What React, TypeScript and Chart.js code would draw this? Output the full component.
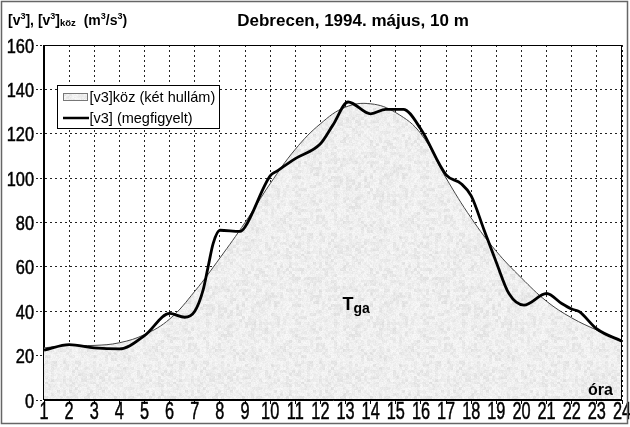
import React, { useEffect, useRef } from "react";
import { Chart, registerables } from "chart.js";

Chart.register(...registerables);

// ---- data ----
const fittedHours = [1, 2, 3, 4, 5, 6, 7, 8, 9, 10, 11, 12, 13, 14, 15, 16, 17, 18, 19, 20, 21, 22, 23, 24];
const fittedValues = [23.5, 24.6, 24.6, 25.8, 29.5, 36.5, 49, 64, 80, 97.5, 113, 124.5, 132, 133.5, 129.5, 120, 100, 82, 67, 55, 44.5, 37, 31.5, 26.7];

const observedHours = [1, 2, 3, 4, 5, 6, 6.6, 7, 7.33, 7.53, 7.73, 8, 8.8, 9, 10, 10.25, 11, 12, 12.5, 13.1, 14, 14.6, 15.3, 16, 17, 17.6, 18, 18.5, 19, 19.5, 20.1, 21, 21.6, 22, 22.3, 23, 24];
const observedValues = [22.5, 25, 23.5, 23, 29, 39, 37.3, 40, 49.5, 60, 70.5, 76.5, 76, 78, 101, 103, 108.8, 115.5, 124, 134.3, 129, 131, 131, 122, 101.5, 97.5, 92, 77, 62, 48, 42.8, 48, 43.5, 41, 39.8, 32, 26.5];

const xMin = 1;
const xMax = 24;
const xStep = 1;
const yMin = 0;
const yMax = 160;
const yStep = 20;

const chartTitle = "Debrecen, 1994. május, 10 m";
const legendFitted = "[v3]köz (két hullám)";
const legendObserved = "[v3] (megfigyelt)";
const xAxisTitle = "óra";
const areaLabelMain = "T";
const areaLabelSub = "ga";
const yTitleParts: { t: string; k: "n" | "sup" | "sub" }[] = [
  { t: "[v", k: "n" },
  { t: "3", k: "sup" },
  { t: "], [v", k: "n" },
  { t: "3", k: "sup" },
  { t: "]", k: "n" },
  { t: "köz", k: "sub" },
  { t: "  (m", k: "n" },
  { t: "3", k: "sup" },
  { t: "/s", k: "n" },
  { t: "3", k: "sup" },
  { t: ")", k: "n" },
];

const FAMILY = '"Liberation Sans", Arial, Helvetica, sans-serif';

function makeTexture(): CanvasPattern | string {
  const size = 128;
  const c = document.createElement("canvas");
  c.width = size;
  c.height = size;
  const g = c.getContext("2d");
  if (!g) return "#e6e6e6";
  const img = g.createImageData(size, size);
  const hash = (x: number, y: number) => {
    const s = Math.sin(x * 127.1 + y * 311.7) * 43758.5453;
    return s - Math.floor(s);
  };
  for (let y = 0; y < size; y++) {
    for (let x = 0; x < size; x++) {
      const fine = hash(x, y);
      const coarse = hash(Math.floor(x / 3) + 500, Math.floor(y / 3) + 900);
      const v = Math.round(249 - 17 * coarse * coarse - 12 * fine);
      const i = (y * size + x) * 4;
      img.data[i] = v;
      img.data[i + 1] = v;
      img.data[i + 2] = v;
      img.data[i + 3] = 255;
    }
  }
  g.putImageData(img, 0, 0);
  const p = g.createPattern(c, "repeat");
  return p || "#e6e6e6";
}

export default function App() {
  const ref = useRef<HTMLCanvasElement>(null);

  useEffect(() => {
    const canvas = ref.current;
    if (!canvas) return;
    const texture = makeTexture();

    const decor = {
      id: "decor",
      afterDraw(chart: any) {
        const ctx: CanvasRenderingContext2D = chart.ctx;
        const { left, top, right, bottom } = chart.chartArea;
        ctx.save();

        // plot frame
        ctx.strokeStyle = "#000";
        ctx.lineWidth = 1;
        ctx.setLineDash([]);
        ctx.strokeRect(Math.round(left) - 0.5, Math.round(top) + 0.5, Math.round(right - left), Math.round(bottom - top) - 1);

        // tick labels (from the library's scales)
        const xs = chart.scales.x;
        const ys = chart.scales.y;
        ctx.fillStyle = "#000";
        ctx.strokeStyle = "#000";
        ctx.lineWidth = 0.5;
        ctx.font = `24px ${FAMILY}`;
        ctx.textAlign = "center";
        ctx.textBaseline = "alphabetic";
        xs.ticks.forEach((t: any) => {
          const px = xs.getPixelForValue(t.value);
          ctx.save();
          ctx.translate(px, 419);
          ctx.scale(0.68, 1);
          ctx.fillText(String(t.value), 0, 0);
          ctx.strokeText(String(t.value), 0, 0);
          ctx.restore();
        });
        ctx.font = `20px ${FAMILY}`;
        ctx.textAlign = "right";
        ys.ticks.forEach((t: any) => {
          const py = ys.getPixelForValue(t.value);
          ctx.save();
          ctx.translate(34, py + 7.5);
          ctx.scale(0.82, 1);
          ctx.fillText(String(t.value), 0, 0);
          ctx.strokeText(String(t.value), 0, 0);
          ctx.restore();
        });

        // title
        ctx.textAlign = "center";
        ctx.font = `bold 17px ${FAMILY}`;
        ctx.fillText(chartTitle, 353, 26);

        // y axis title with super/subscripts
        ctx.textAlign = "left";
        let x = 8;
        const base = 25;
        yTitleParts.forEach((p) => {
          let dy = 0;
          if (p.k === "n") ctx.font = `bold 14px ${FAMILY}`;
          else if (p.k === "sup") {
            ctx.font = `bold 9px ${FAMILY}`;
            dy = -6;
          } else {
            ctx.font = `bold 9.5px ${FAMILY}`;
            dy = 1;
          }
          ctx.fillText(p.t, x, base + dy);
          x += ctx.measureText(p.t).width;
        });

        // legend box
        ctx.fillStyle = "#fff";
        ctx.fillRect(57, 85, 162, 43);
        ctx.strokeStyle = "#000";
        ctx.lineWidth = 1;
        ctx.strokeRect(57.5, 85.5, 162, 43);
        ctx.fillStyle = texture as any;
        ctx.fillRect(63, 93, 24, 7);
        ctx.strokeStyle = "#777";
        ctx.strokeRect(63.5, 93.5, 24, 7);
        ctx.strokeStyle = "#000";
        ctx.lineWidth = 2.5;
        ctx.beginPath();
        ctx.moveTo(63, 118);
        ctx.lineTo(89, 118);
        ctx.stroke();
        ctx.fillStyle = "#000";
        ctx.font = `14.5px ${FAMILY}`;
        ctx.fillText(legendFitted, 89.5, 102);
        ctx.fillText(legendObserved, 89.5, 123);

        // area label
        ctx.font = `bold 18px ${FAMILY}`;
        ctx.fillText(areaLabelMain, 342.5, 310);
        ctx.font = `bold 14px ${FAMILY}`;
        ctx.fillText(areaLabelSub, 353.5, 313);

        // x axis title
        ctx.font = `bold 16px ${FAMILY}`;
        ctx.fillText(xAxisTitle, 588, 395);

        // outer frame
        ctx.strokeStyle = "#666";
        ctx.lineWidth = 1.5;
        ctx.strokeRect(1.5, 1.5, 626, 422);
        ctx.restore();
      },
    };

    const chart = new Chart(canvas, {
      type: "line",
      data: {
        datasets: [
          {
            label: legendObserved,
            data: observedHours.map((h, i) => ({ x: h, y: observedValues[i] })),
            borderColor: "#000",
            borderWidth: 2.8,
            pointRadius: 0,
            fill: false,
            cubicInterpolationMode: "monotone",
          },
          {
            label: legendFitted,
            data: fittedHours.map((h, i) => ({ x: h, y: fittedValues[i] })),
            borderColor: "#444",
            borderWidth: 1,
            pointRadius: 0,
            tension: 0.4,
            fill: "origin",
            backgroundColor: texture as any,
          },
        ],
      },
      options: {
        responsive: false,
        animation: false,
        layout: { padding: { left: 0, top: 45, right: 8, bottom: 0 } },
        plugins: {
          legend: { display: false },
          tooltip: { enabled: false },
          title: { display: false },
        },
        scales: {
          x: {
            type: "linear",
            min: xMin,
            max: xMax,
            ticks: { stepSize: xStep, display: false },
            grid: { color: "#222", lineWidth: 1, tickLength: 4, tickColor: "#000" },
            border: { display: true, color: "#000", dash: [2, 3] },
            afterFit(s: any) {
              s.height = 27;
              s.paddingLeft = 0;
              s.paddingRight = 0;
            },
          },
          y: {
            min: yMin,
            max: yMax,
            ticks: { stepSize: yStep, display: false },
            grid: { color: "#222", lineWidth: 1, tickLength: 8, tickColor: "#222", tickBorderDash: [2, 2] },
            border: { display: true, color: "#000", dash: [2, 3] },
            afterFit(s: any) {
              s.width = 44;
              s.paddingTop = 0;
              s.paddingBottom = 0;
            },
          },
        },
      } as any,
      plugins: [decor],
    });
    return () => chart.destroy();
  }, []);

  return (
    <div style={{ position: "absolute", left: 0, top: 0, width: 630, height: 427, background: "#fff" }}>
      <canvas ref={ref} width={630} height={427} style={{ display: "block", width: 630, height: 427 }} />
    </div>
  );
}
